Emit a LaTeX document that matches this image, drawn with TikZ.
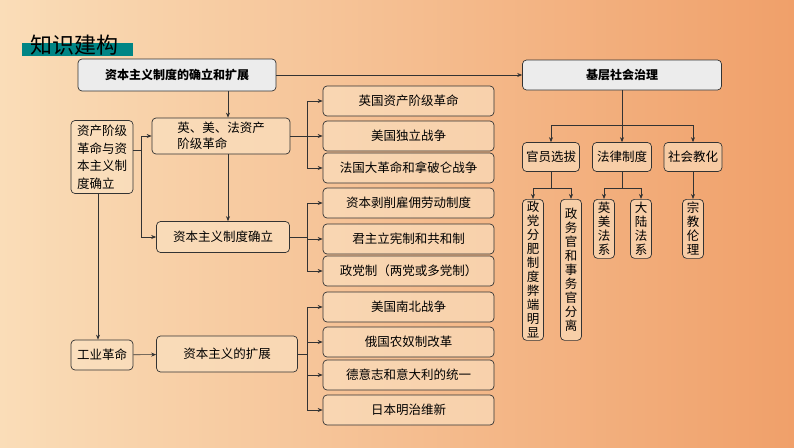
\documentclass[tikz,border=0pt]{standalone}
\usepackage{fontspec}
\setmainfont{Noto Sans CJK SC}
\usetikzlibrary{arrows.meta}
\definecolor{bgl}{HTML}{FADDB8}
\definecolor{bgr}{HTML}{F0A06A}
\definecolor{bxf}{HTML}{FBE3C4}
\begin{document}
\begin{tikzpicture}[x=1pt,y=-1pt,
 bx/.style={draw=black!80,line width=0.7pt,rounded corners=4pt,fill=bxf,fill opacity=0.6,text opacity=1,font=\fontsize{12.5}{15}\selectfont,inner sep=0pt},
 top/.style={bx,fill=gray!15,fill opacity=1,font=\fontsize{12}{14}\selectfont\bfseries},
 ar/.style={-{Stealth[length=5pt,width=4pt]},line width=0.6pt,black!80},
 ln/.style={line width=0.6pt,black!80}]
\shade[left color=bgl,right color=bgr] (0,0) rectangle (794,447);
\useasboundingbox (0,0) rectangle (794,447);
\fill[teal!70!cyan!80!black] (22,43) rectangle (133,56);
\node[font=\fontsize{22}{24}\selectfont,anchor=west,inner sep=0pt] (title) at (30,45) {知识建构};
% top
\node[top,minimum width=198,minimum height=32] (main) at (177,75) {资本主义制度的确立和扩展};
\node[top,minimum width=199,minimum height=30] (jc) at (622,75) {基层社会治理};
% left
\node[bx,minimum width=62,minimum height=73,align=left,font=\fontsize{12.5}{17.5}\selectfont] (zc) at (102,157) {资产阶级\\革命与资\\本主义制\\度确立};
\node[bx,minimum width=138,minimum height=36,align=left,font=\fontsize{12.5}{16}\selectfont] (ymf) at (221,136) {英、美、法资产\\阶级革命};
\node[bx,minimum width=133,minimum height=31] (qr) at (223,237) {资本主义制度确立};
\node[bx,minimum width=62,minimum height=30] (gy) at (102,355) {工业革命};
\node[bx,minimum width=141,minimum height=36] (kz) at (227,354) {资本主义的扩展};
\foreach \n/\y/\t in {r1/101/英国资产阶级革命,r2/136/美国独立战争,r3/168/法国大革命和拿破仑战争,r4/203/资本剥削雇佣劳动制度,r5/239/君主立宪制和共和制,r6/271/政党制（两党或多党制）,r7/307/美国南北战争,r8/342/俄国农奴制改革,r9/375/德意志和意大利的统一,r10/410/日本明治维新}
 \node[bx,minimum width=171,minimum height=30] (\n) at (408.5,\y) {\t};
\draw[ar] (main.south -| 228,0) -- (ymf.north -| 228,0);
\draw[ar] (ymf.south -| 228,0) -- (qr.north -| 228,0);
\draw[ln] (zc.east |- 0,150) -- (141,150);
\draw[ln] (141,136) -- (141,237);
\draw[ar] (141,136) -- (ymf.west);
\draw[ar] (141,237) -- (qr.west);
\draw[ar] (zc.south -| 98,0) -- (gy.north -| 98,0);
\draw[ar] (gy) -- (kz);
\draw[ar] (main.east) -- (jc.west);
\foreach \s/\a/\b/\c in {ymf/r1/r2/r3,qr/r4/r5/r6}{
 \draw[ln] (\s.east) -- (307,0 |- \s.east);
 \draw[ln] (307,0 |- \a.west) -- (307,0 |- \c.west);
 \foreach \t in {\a,\b,\c} \draw[ar] (307,0 |- \t.west) -- (\t.west);}
\draw[ln] (kz.east) -- (307,354);
\draw[ln] (307,0 |- r7.west) -- (307,0 |- r10.west);
\foreach \t in {r7,r8,r9,r10} \draw[ar] (307,0 |- \t.west) -- (\t.west);
% right tree
\node[bx,minimum width=57,minimum height=29] (gx) at (551,157) {官员选拔};
\node[bx,minimum width=59,minimum height=29] (fl) at (622,157) {法律制度};
\node[bx,minimum width=58,minimum height=29] (sh) at (693,157) {社会教化};
\draw[ar] (jc.south) -- (fl.north);
\draw[ln] (551,125) -- (693,125);
\draw[ar] (551,125) -- (gx.north);
\draw[ar] (693,125) -- (sh.north);
\tikzset{vb/.style={bx,text width=14pt,align=center,minimum width=21,font=\fontsize{12.5}{14}\selectfont}}
\node[vb,minimum height=141,anchor=north] (v1) at (533,199) {政\\党\\分\\肥\\制\\度\\弊\\端\\明\\显};
\node[vb,minimum height=141,anchor=north] (v2) at (571,199) {政\\务\\官\\和\\事\\务\\官\\分\\离};
\node[vb,minimum height=59,anchor=north] (v3) at (604,199) {英\\美\\法\\系};
\node[vb,minimum height=59,anchor=north] (v4) at (641,199) {大\\陆\\法\\系};
\node[vb,minimum height=59,anchor=north] (v5) at (693,199) {宗\\教\\伦\\理};
\draw[ln] (gx.south) -- (551,188);
\draw[ln] (533,188) -- (571,188);
\draw[ar] (533,188) -- (v1.north);
\draw[ar] (571,188) -- (v2.north);
\draw[ln] (fl.south) -- (622,188);
\draw[ln] (604,188) -- (641,188);
\draw[ar] (604,188) -- (v3.north);
\draw[ar] (641,188) -- (v4.north);
\draw[ar] (sh.south) -- (v5.north);
\end{tikzpicture}
\end{document}
